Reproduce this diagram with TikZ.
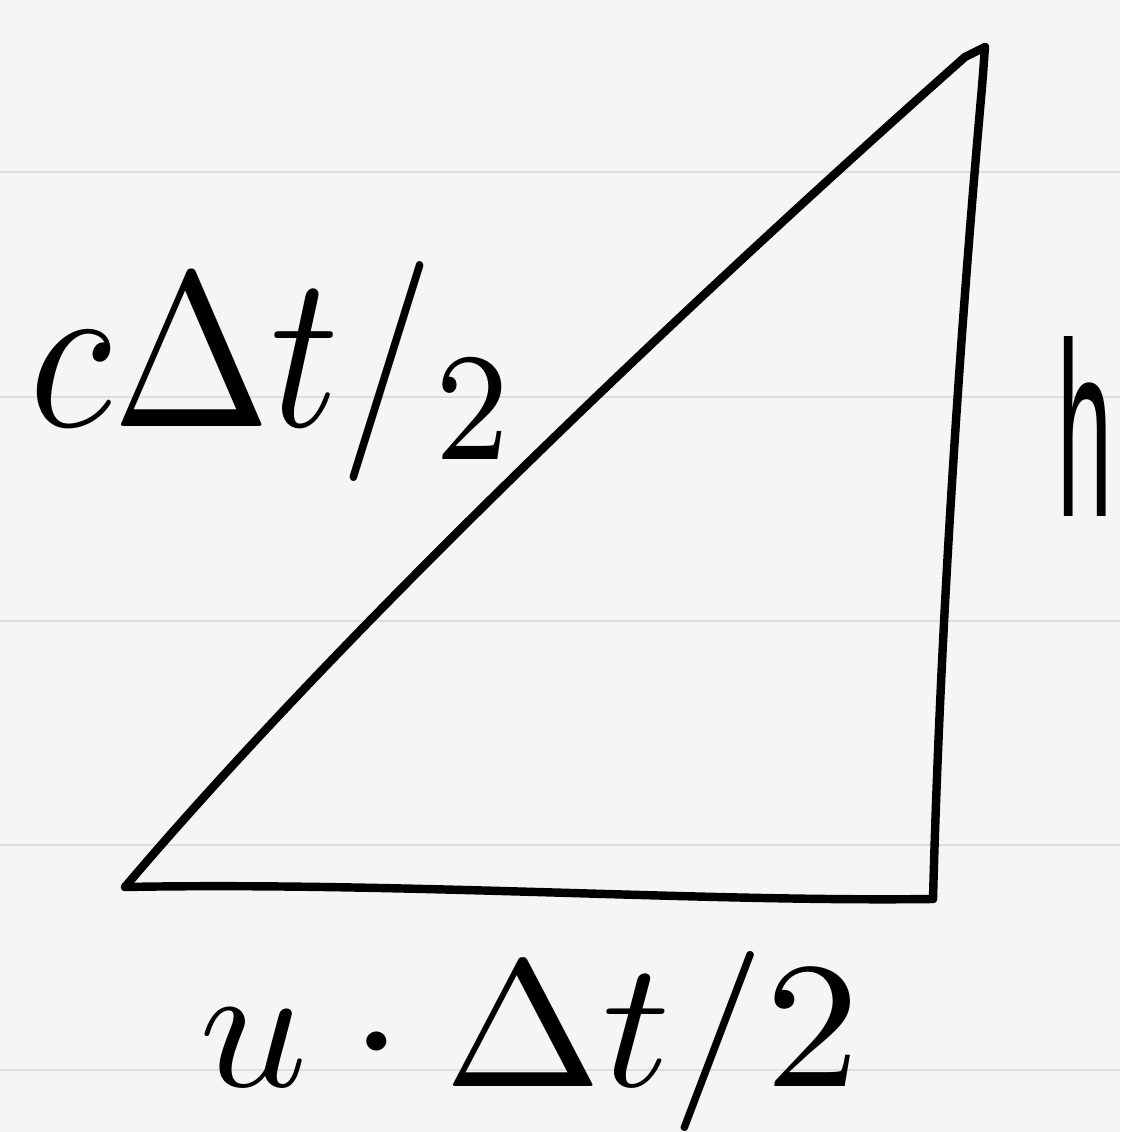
\documentclass[tikz,border=0pt]{standalone}
\usepackage{fontspec}
\setmainfont{Liberation Sans}
\begin{document}
\begin{tikzpicture}[x=1cm,y=1cm,
  ruled/.style={draw=black!13, line width=0.6pt},
  stroke/.style={draw=black, line width=2.4pt, line cap=round, line join=round},
  lbl/.style={inner sep=0pt}]
\fill[black!4] (0,0) rectangle (11.2,11.32);
\useasboundingbox (0,0) rectangle (11.2,11.32);
\foreach \py in {172,397,621,845,1070}
  \draw[ruled] (0,{(1132-\py)/100}) -- (11.2,{(1132-\py)/100});
\coordinate (A) at (1.25,2.45);
\coordinate (B) at (9.33,2.33);
\coordinate (C) at (9.85,10.85);
\coordinate (Ct) at (9.82,10.45);
\draw[stroke] (A) .. controls (4,2.5) and (7,2.3) .. (B);
\draw[stroke] (B) .. controls (9.4,5) and (9.6,8) .. (Ct);
\draw[stroke] (A) .. controls (3.5,5.1) and (7,8.4) .. (9.65,10.75) -- (C) -- (Ct);
\node[lbl] (top) at (2.75,7.6) {\resizebox{4.9cm}{1.65cm}{$c\Delta t/_{2}$}};
\node[lbl] (h) at (10.85,7.05) {\resizebox{0.55cm}{1.8cm}{h}};
\node[lbl] (bot) at (5.3,0.9) {\resizebox{6.6cm}{1.35cm}{$u\cdot\Delta t/2$}};
\end{tikzpicture}
\end{document}
